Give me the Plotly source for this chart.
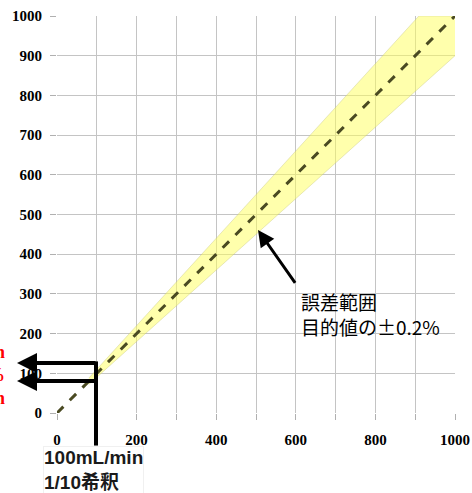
import plotly.graph_objects as go

# Data
line_x = [0, 1000]
line_y = [0, 1000]
band_x = [80, 909.1, 1000]
band_upper = [88, 1000, 1000]
band_lower = [72, 818.2, 900]
x_ticks = [0, 100, 200, 300, 400, 500, 600, 700, 800, 900, 1000]
x_ticktext = ["0", "", "200", "", "400", "", "600", "", "800", "", "1000"]
y_ticks = [0, 100, 200, 300, 400, 500, 600, 700, 800, 900, 1000]
note_text = "誤差範囲<br>目的値の±0.2%"
box_text = "100mL/min<br>1/10希釈"
red_texts = ["110mL/min", "±10%", "90mL/min"]

fig = go.Figure()
# band
fig.add_trace(go.Scatter(x=band_x, y=band_lower, mode="lines",
                         line=dict(color="rgba(190,190,130,0.6)", width=0.6),
                         showlegend=False, hoverinfo="skip"))
fig.add_trace(go.Scatter(x=band_x, y=band_upper, mode="lines",
                         line=dict(color="rgba(190,190,130,0.6)", width=0.6),
                         fill="tonexty", fillcolor="rgba(255,255,90,0.5)",
                         showlegend=False, hoverinfo="skip"))
# dashed target line
fig.add_trace(go.Scatter(x=line_x, y=line_y, mode="lines",
                         line=dict(color="#4a4a22", width=3, dash="dash"),
                         hoverinfo="skip", showlegend=False))

tick_font = dict(family="Liberation Serif", size=15, color="black", weight="bold")
fig.update_xaxes(range=[0, 1000], tickvals=x_ticks, ticktext=x_ticktext,
                 showgrid=True, gridcolor="#c4c4c4", gridwidth=1,
                 showline=False, zeroline=False, automargin=False,
                 ticks="outside", ticklen=6, tickcolor="#b0b0b0",
                 tickfont=tick_font, ticklabelstandoff=7)
fig.update_yaxes(range=[0, 1000], tickvals=y_ticks,
                 showgrid=True, gridcolor="#c4c4c4", gridwidth=1,
                 showline=False, zeroline=False, automargin=False,
                 ticks="outside", ticklen=6, tickcolor="#b0b0b0",
                 tickfont=tick_font, ticklabelstandoff=5)

annotations = []
# error range arrow
annotations.append(dict(x=505, y=461, ax=601, ay=324, xref="x", yref="y",
                        axref="x", ayref="y", text="", showarrow=True,
                        arrowhead=2, arrowsize=1.1, arrowwidth=3, arrowcolor="black"))
annotations.append(dict(x=608, y=320, xref="x", yref="y", text=note_text,
                        showarrow=False, xanchor="left", yanchor="top", align="left",
                        font=dict(family="Noto Sans CJK JP", size=19, color="black")))
# bracket arrows on left
for yy in [0.126, 0.0806]:
    annotations.append(dict(x=-0.1005, y=yy, ax=80, ay=0, xref="paper", yref="paper",
                            axref="pixel", ayref="pixel", text="", showarrow=True,
                            arrowhead=2, arrowsize=1.0, arrowwidth=4, arrowcolor="black"))
# box text
annotations.append(dict(x=-0.035, y=-0.082, xref="paper", yref="paper", text=box_text,
                        showarrow=False, xanchor="left", yanchor="top", align="left",
                        bgcolor="white", bordercolor="#f0f0f0", borderwidth=1,
                        borderpad=0,
                        font=dict(family="Liberation Sans, Noto Sans CJK JP", size=19,
                                  color="#1a1a1a", weight="bold")))
# red cut-off texts
for txt, yy in zip(red_texts, [0.1537, 0.0957, 0.0378]):
    annotations.append(dict(x=-0.1257, y=yy, xref="paper", yref="paper",
                            text=f"<b>{txt}</b>",
                            showarrow=False, xanchor="right", yanchor="middle",
                            font=dict(family="Liberation Serif", size=18, color="red")))

shapes = [dict(type="line", xref="paper", yref="paper", x0=0.098, x1=0.098,
               y0=0.13, y1=-0.082, line=dict(color="black", width=4), layer="above")]

fig.update_layout(width=472, height=493,
                  margin=dict(l=57, r=17, t=16, b=80),
                  plot_bgcolor="white", paper_bgcolor="white",
                  annotations=annotations, shapes=shapes,
                  showlegend=False)
fig.write_html("out.html", config={"displayModeBar": False},
               post_script="document.body.style.margin='0';")
